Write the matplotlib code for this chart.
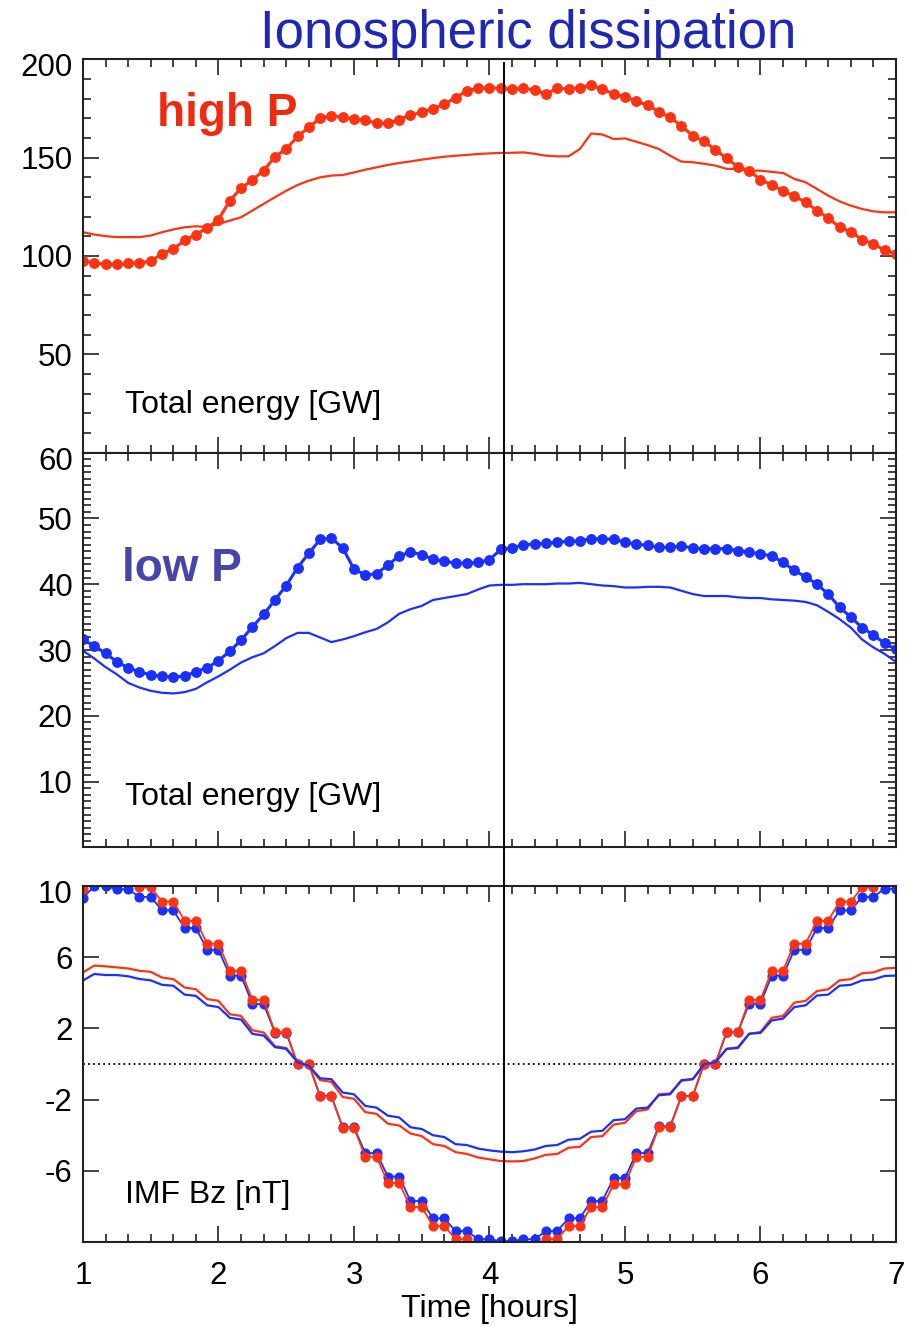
import numpy as np
import matplotlib
matplotlib.use("Agg")
import matplotlib.pyplot as plt
from matplotlib.lines import Line2D
from matplotlib.ticker import MultipleLocator, FixedLocator, NullFormatter, FixedFormatter
from matplotlib.transforms import blended_transform_factory

plt.rcParams['font.family'] = ['Liberation Sans', 'DejaVu Sans']

# ---------------------------------------------------------------- data
# 5-minute samples between hour 1 and hour 7
time_h = np.linspace(1.0, 7.0, 73)
t_marker = 4.11   # reference time drawn as a vertical line

# Total ionospheric dissipation, high solar-wind pressure [GW]
high_p_dots = [97.4, 96.5, 95.7, 95.7, 96.2, 96.5, 97.4, 101.1, 103.6, 107.9,
               110.9, 114.3, 118.5, 128.2, 134.4, 138.8, 143.4, 150.5, 154.4, 160.8,
               165.4, 170.2, 171.3, 170.5, 169.6, 169.1, 167.6, 167.6, 169.3, 171.8,
               173.0, 175.0, 177.2, 180.6, 184.0, 185.4, 185.6, 185.2, 184.9, 185.2,
               184.5, 182.3, 185.4, 184.9, 185.7, 186.9, 184.9, 182.3, 181.1, 178.6,
               176.9, 173.4, 170.5, 166.2, 161.2, 158.3, 154.1, 149.6, 145.4, 143.4,
               138.8, 136.1, 133.2, 130.4, 127.3, 123.1, 119.4, 114.6, 112.4, 108.2,
               106.2, 102.8, 101.1]
high_p_line = [112.1, 110.9, 110.1, 109.6, 109.6, 109.6, 110.4, 112.1, 113.5, 114.6,
               115.1, 114.8, 116.3, 118.0, 119.7, 123.1, 126.5, 129.9, 133.2, 136.1,
               138.3, 140.0, 140.9, 141.2, 142.5, 143.9, 145.1, 146.3, 147.3, 148.1,
               149.0, 149.8, 150.5, 151.0, 151.4, 151.9, 152.2, 152.4, 152.5, 152.7,
               152.0, 151.0, 150.7, 150.7, 154.4, 162.3, 161.8, 159.5, 159.8, 158.1,
               156.4, 154.4, 151.0, 148.0, 147.7, 146.9, 146.0, 144.3, 144.3, 143.4,
               143.4, 142.8, 142.2, 139.2, 137.5, 134.1, 130.7, 127.8, 125.6, 123.9,
               122.7, 122.2, 122.2]

# Total ionospheric dissipation, low solar-wind pressure [GW]
low_p_dots = [31.6, 30.6, 29.5, 28.2, 27.3, 26.7, 26.2, 26.0, 25.9, 26.05,
              26.7, 27.3, 28.4, 29.8, 31.5, 33.5, 35.4, 37.6, 39.8, 42.5,
              44.7, 46.8, 47.0, 45.5, 42.3, 41.4, 41.6, 42.9, 44.3, 44.9,
              44.5, 43.8, 43.5, 43.2, 43.2, 43.3, 43.7, 45.3, 45.5, 46.0,
              46.1, 46.2, 46.4, 46.5, 46.6, 46.9, 46.9, 46.8, 46.4, 46.1,
              45.9, 45.6, 45.6, 45.8, 45.5, 45.4, 45.4, 45.4, 45.1, 44.9,
              44.6, 44.3, 43.3, 42.1, 41.1, 40.0, 38.5, 36.5, 35.0, 33.4,
              32.3, 31.0, 30.1]
low_p_line = [29.9, 28.7, 27.4, 26.3, 25.0, 24.3, 23.8, 23.5, 23.4, 23.6,
              24.1, 25.1, 26.0, 27.0, 28.1, 28.9, 29.5, 30.6, 31.8, 32.6,
              32.6, 31.9, 31.2, 31.6, 32.1, 32.7, 33.2, 34.2, 35.5, 36.2,
              36.7, 37.6, 37.9, 38.2, 38.5, 39.2, 39.8, 39.9, 39.9, 40.0,
              40.0, 40.0, 40.1, 40.1, 40.2, 40.0, 39.8, 39.7, 39.5, 39.5,
              39.6, 39.6, 39.5, 39.0, 38.5, 38.2, 38.2, 38.2, 38.0, 37.9,
              37.9, 37.7, 37.6, 37.5, 37.3, 36.8, 35.8, 34.7, 33.4, 31.6,
              30.4, 29.4, 28.2]

# IMF Bz [nT]: upstream (dots) and at the bow shock (lines)
bz_red_dots = [9.86, 10.4, 10.4, 10.3, 10.3, 9.92, 9.92, 9.13, 9.13, 8.05,
               8.05, 6.76, 6.76, 5.23, 5.23, 3.60, 3.60, 1.79, 1.79, 0.0,
               0.0, -1.82, -1.82, -3.57, -3.57, -5.21, -5.21, -6.68, -6.68, -8.03,
               -8.03, -9.10, -9.10, -9.84, -9.84, -10.3, -10.3, -10.5, -10.5, -10.3,
               -10.3, -9.84, -9.84, -9.10, -9.10, -8.03, -8.03, -6.75, -6.75, -5.21,
               -5.21, -3.55, -3.55, -1.80, -1.80, 0.0, 0.0, 1.80, 1.80, 3.60,
               3.60, 5.25, 5.25, 6.76, 6.76, 8.05, 8.05, 9.13, 9.13, 9.92,
               9.92, 10.3, 10.3]
bz_blue_dots = [9.33, 10.0, 10.0, 9.82, 9.82, 9.39, 9.39, 8.63, 8.63, 7.64,
                7.64, 6.42, 6.42, 4.97, 4.97, 3.37, 3.37, 1.77, 1.77, 0.0,
                0.0, -1.80, -1.80, -3.55, -3.55, -5.00, -5.00, -6.32, -6.32, -7.69,
                -7.69, -8.67, -8.67, -9.38, -9.38, -9.84, -9.84, -9.95, -9.95, -9.84,
                -9.84, -9.38, -9.38, -8.67, -8.67, -7.69, -7.69, -6.40, -6.40, -5.00,
                -5.00, -3.50, -3.50, -1.80, -1.80, 0.0, 0.0, 1.80, 1.80, 3.40,
                3.40, 4.97, 4.97, 6.42, 6.42, 7.64, 7.64, 8.63, 8.63, 9.39,
                9.39, 9.85, 9.85]
bz_red_line = [5.15, 5.53, 5.49, 5.43, 5.37, 5.24, 5.18, 4.86, 4.77, 4.30,
               4.20, 3.65, 3.55, 2.80, 2.70, 1.90, 1.77, 1.00, 0.90, 0.15,
               -0.10, -0.90, -1.00, -1.85, -1.95, -2.70, -2.80, -3.35, -3.45, -3.90,
               -4.05, -4.50, -4.60, -4.95, -5.05, -5.25, -5.35, -5.45, -5.47, -5.45,
               -5.30, -5.10, -5.05, -4.70, -4.65, -4.10, -4.05, -3.40, -3.30, -2.65,
               -2.55, -1.70, -1.65, -0.95, -0.85, -0.10, 0.10, 0.85, 0.95, 1.70,
               1.80, 2.60, 2.70, 3.45, 3.55, 4.10, 4.20, 4.70, 4.77, 5.10,
               5.15, 5.37, 5.40]
bz_blue_line = [4.69, 5.06, 5.00, 5.00, 4.93, 4.78, 4.70, 4.45, 4.40, 3.90,
                3.83, 3.30, 3.20, 2.60, 2.50, 1.70, 1.60, 0.95, 0.85, 0.10,
                -0.10, -0.80, -0.85, -1.60, -1.70, -2.35, -2.45, -2.90, -3.00, -3.55,
                -3.65, -4.00, -4.10, -4.50, -4.55, -4.75, -4.85, -4.92, -4.95, -4.90,
                -4.80, -4.60, -4.55, -4.25, -4.20, -3.80, -3.75, -3.15, -3.10, -2.50,
                -2.45, -1.75, -1.70, -0.90, -0.85, 0.00, 0.10, 0.85, 0.90, 1.70,
                1.75, 2.45, 2.55, 3.20, 3.30, 3.85, 3.90, 4.40, 4.45, 4.70,
                4.75, 4.95, 4.97]

x_ticks = [1, 2, 3, 4, 5, 6, 7]

# ---------------------------------------------------------------- style
RED = '#ff3311'
BLUE = '#1a30ff'
TICK_FS = 22.5
LABEL_FS = 23

fig = plt.figure(figsize=(9.18, 13.26), dpi=100)
left, width = 0.0904, 0.8856
ax1 = fig.add_axes([left, 0.6587, width, 0.2965])
ax2 = fig.add_axes([left, 0.3609, width, 0.2978])
ax3 = fig.add_axes([left, 0.0633, width, 0.2685])


def style_axes(ax, show_x_labels):
    ax.set_xlim(1, 7)
    ax.xaxis.set_major_locator(FixedLocator(x_ticks))
    ax.xaxis.set_minor_locator(MultipleLocator(1 / 6))
    for s in ax.spines.values():
        s.set_linewidth(1.5)
        s.set_color('#222222')
    ax.tick_params(which='both', direction='in', top=True, right=True,
                   color='#222222', width=1.2, labelsize=TICK_FS)
    ax.tick_params(which='major', length=11.5)
    ax.tick_params(which='minor', length=5.8)
    ax.tick_params(axis='y', pad=7.4)
    ax.tick_params(axis='x', pad=13.5)
    if not show_x_labels:
        ax.xaxis.set_major_formatter(NullFormatter())


def top_label(ax, text):
    # the top tick label sits a little below the frame edge
    ax.annotate(text, xy=(0, 1), xycoords='axes fraction', xytext=(-7.4, -6.5),
                textcoords='offset points', ha='right', va='center',
                fontsize=TICK_FS)


# ---- panel 1: high pressure
style_axes(ax1, False)
ax1.plot(time_h, high_p_line, color=RED, lw=1.6)
ax1.plot(time_h, high_p_dots, color=RED, lw=2.2, marker='o', ms=6.8, mec=RED, mfc=RED)
ax1.set_ylim(0, 200)
ax1.yaxis.set_major_locator(FixedLocator([0, 50, 100, 150, 200]))
ax1.yaxis.set_major_formatter(FixedFormatter(['', '50', '100', '150', '']))
ax1.yaxis.set_minor_locator(MultipleLocator(10))
top_label(ax1, '200')
ax1.text(0.0517, 0.121, 'Total energy [GW]', transform=ax1.transAxes,
         fontsize=LABEL_FS, ha='left', va='center')
ax1.text(0.091, 0.862, 'high P', transform=ax1.transAxes, fontsize=33,
         fontweight='bold', color='#ee2a10', ha='left', va='center')

# ---- panel 2: low pressure
style_axes(ax2, False)
ax2.plot(time_h, low_p_line, color=BLUE, lw=1.6)
ax2.plot(time_h, low_p_dots, color=BLUE, lw=2.2, marker='o', ms=6.8, mec=BLUE, mfc=BLUE)
ax2.set_ylim(0, 60)
ax2.yaxis.set_major_locator(FixedLocator([0, 10, 20, 30, 40, 50, 60]))
ax2.yaxis.set_major_formatter(FixedFormatter(['', '10', '20', '30', '40', '50', '']))
ax2.yaxis.set_minor_locator(MultipleLocator(1))
top_label(ax2, '60')
ax2.text(0.0517, 0.128, 'Total energy [GW]', transform=ax2.transAxes,
         fontsize=LABEL_FS, ha='left', va='center')
ax2.text(0.048, 0.705, 'low P', transform=ax2.transAxes, fontsize=33,
         fontweight='bold', color='#4646aa', ha='left', va='center')

# ---- panel 3: IMF Bz
style_axes(ax3, True)
ax3.axhline(0, color='black', lw=1.3, ls=(0, (1, 1.8)))
ax3.plot(time_h, bz_blue_dots, color=BLUE, lw=1.3, marker='o', ms=6.3, mec=BLUE, mfc=BLUE)
ax3.plot(time_h, bz_red_dots, color=RED, lw=1.3, marker='o', ms=6.3, mec=RED, mfc=RED)
ax3.plot(time_h, bz_red_line, color=RED, lw=1.6)
ax3.plot(time_h, bz_blue_line, color=BLUE, lw=1.6)
ax3.set_ylim(-10, 10)
ax3.yaxis.set_major_locator(FixedLocator([-10, -6, -2, 2, 6, 10]))
ax3.yaxis.set_major_formatter(FixedFormatter(['', '-6', '-2', '2', '6', '']))
ax3.yaxis.set_minor_locator(FixedLocator([]))
top_label(ax3, '10')
ax3.xaxis.set_major_formatter(FixedFormatter([str(v) for v in x_ticks]))
ax3.set_xlabel('Time [hours]', fontsize=LABEL_FS, labelpad=2)
ax3.text(0.0517, 0.132, 'IMF Bz [nT]', transform=ax3.transAxes,
         fontsize=LABEL_FS, ha='left', va='center')

# vertical marker spanning all three panels
bottom_y = ax3.get_position().y0
top_y = ax1.get_position().y1 - 4 / 1326
vline = Line2D([t_marker, t_marker], [bottom_y, top_y], color='black', lw=1.4,
               transform=blended_transform_factory(ax3.transData, fig.transFigure))
fig.add_artist(vline)

fig.text(0.575, 0.9638, 'Ionospheric dissipation', fontsize=38,
         color='#1e28b4', ha='center', va='baseline')

fig.savefig('out.png', dpi=100)
